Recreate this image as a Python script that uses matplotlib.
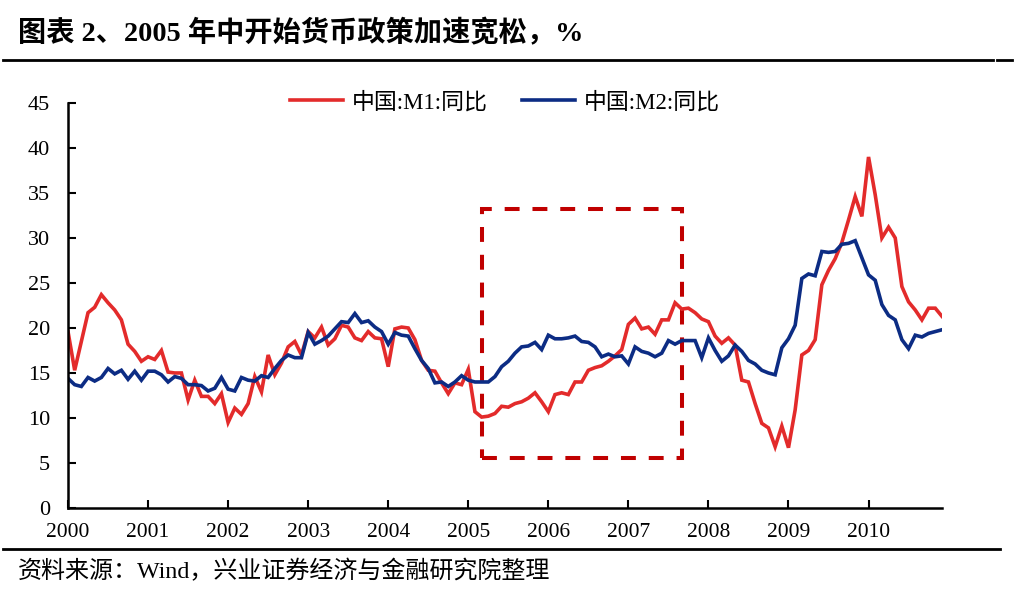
import matplotlib
matplotlib.use('Agg')
import matplotlib.pyplot as plt
from matplotlib.patches import Rectangle
from matplotlib.lines import Line2D
import numpy as np

plt.rcParams['font.family'] = ['Liberation Serif', 'Noto Sans CJK SC']

# monthly YoY growth, Jan 2000 - Dec 2010
m1 = [19.6, 15.3, 18.5, 21.7, 22.3, 23.7, 22.8, 22.0, 20.9, 18.2, 17.4, 16.3,
      16.8, 16.5, 17.5, 15.1, 15.0, 15.0, 12.0, 14.2, 12.4, 12.4, 11.6, 12.7,
      9.5, 11.1, 10.4, 11.6, 14.6, 12.9, 17.0, 14.8, 16.1, 17.9, 18.5, 17.0,
      19.6, 18.9, 20.1, 18.1, 18.8, 20.3, 20.1, 18.9, 18.6, 19.6, 18.9, 18.8,
      15.7, 19.9, 20.1, 20.0, 18.7, 16.4, 15.3, 15.2, 13.9, 12.7, 13.9, 13.7,
      15.4, 10.7, 10.1, 10.2, 10.5, 11.3, 11.2, 11.6, 11.8, 12.2, 12.8, 11.8,
      10.7, 12.6, 12.8, 12.6, 14.0, 14.0, 15.3, 15.6, 15.8, 16.3, 16.9, 17.6,
      20.4, 21.1, 19.9, 20.1, 19.3, 20.9, 20.9, 22.8, 22.1, 22.2, 21.7, 21.0,
      20.7, 19.1, 18.3, 18.9, 18.1, 14.2, 14.0, 11.6, 9.4, 8.9, 6.8, 9.1,
      6.7, 10.9, 17.0, 17.5, 18.7, 24.8, 26.4, 27.7, 29.5, 32.0, 34.6, 32.4,
      39.0, 34.8, 30.0, 31.2, 30.0, 24.6, 22.9, 22.0, 20.9, 22.2, 22.2, 21.3]
m2 = [14.4, 13.7, 13.5, 14.5, 14.1, 14.5, 15.5, 14.9, 15.3, 14.3, 15.2, 14.2,
      15.2, 15.2, 14.8, 14.0, 14.6, 14.4, 13.7, 13.7, 13.6, 13.0, 13.3, 14.5,
      13.2, 13.0, 14.5, 14.2, 14.1, 14.7, 14.5, 15.5, 16.4, 17.0, 16.7, 16.7,
      19.5, 18.2, 18.6, 19.1, 19.9, 20.7, 20.6, 21.6, 20.6, 20.8, 20.1, 19.6,
      18.2, 19.5, 19.2, 19.1, 17.7, 16.4, 15.5, 13.9, 14.0, 13.5, 14.0, 14.7,
      14.2, 14.0, 14.0, 14.0, 14.6, 15.7, 16.3, 17.2, 17.9, 18.0, 18.4, 17.6,
      19.2, 18.8, 18.8, 18.9, 19.1, 18.5, 18.4, 17.9, 16.8, 17.1, 16.8, 16.9,
      16.0, 17.9, 17.4, 17.2, 16.8, 17.2, 18.6, 18.2, 18.6, 18.6, 18.6, 16.7,
      18.9, 17.5, 16.3, 16.9, 18.1, 17.4, 16.4, 16.0, 15.3, 15.0, 14.8, 17.8,
      18.8, 20.3, 25.5, 26.0, 25.8, 28.5, 28.4, 28.5, 29.3, 29.4, 29.7, 27.8,
      25.9, 25.3, 22.6, 21.4, 20.9, 18.7, 17.7, 19.2, 19.0, 19.4, 19.6, 19.8]
years = ['2000', '2001', '2002', '2003', '2004', '2005',
         '2006', '2007', '2008', '2009', '2010']
labels = ['中国:M1:同比', '中国:M2:同比']

# highlighted period: Mar 2005 - Sep 2007
box_x = [62, 92]
box_y = [5.5, 33.2]

red = '#E32B2B'
blue = '#0C2C84'

fig = plt.figure(figsize=(10.15, 5.9), dpi=100)
ax = fig.add_axes([0.067, 0.139, 0.861, 0.6865])

x = np.arange(len(m1))
ax.plot(x, m1, color=red, lw=2.6, label=labels[0], solid_joinstyle='miter')
ax.plot(x, m2, color=blue, lw=2.6, label=labels[1], solid_joinstyle='miter')

ax.add_patch(Rectangle((box_x[0], box_y[0]), box_x[1] - box_x[0], box_y[1] - box_y[0],
                       fill=False, ec='#C00000', lw=2.9, ls=(0, (3.7, 3.2))))

ax.set_xlim(0, len(m1) - 1)
ax.set_ylim(0, 45)
ax.set_yticks(range(0, 46, 5))
ax.set_xticks(range(0, len(m1), 12))
ax.set_xticklabels(years)
ax.tick_params(axis='y', direction='in', length=6, width=1.5, labelsize=16, pad=13)
ax.tick_params(axis='x', direction='in', length=6, width=1.5, labelsize=15.5, pad=11)
for s in ['top', 'right']:
    ax.spines[s].set_visible(False)
for s in ['left', 'bottom']:
    ax.spines[s].set_linewidth(1.8)

ax.legend(loc='upper center', bbox_to_anchor=(0.5, 1.078), ncol=2, frameon=False,
          fontsize=16.5, handlelength=2.3, handletextpad=0.4, columnspacing=1.5)

fig.text(0.018, 0.944, '图表 2、2005 年中开始货币政策加速宽松，%', fontsize=20.3,
         fontweight='bold', va='center', ha='left')
fig.add_artist(Line2D([0.003, 0.978], [0.898, 0.898], color='black', lw=2))
fig.add_artist(Line2D([0.982, 0.997], [0.898, 0.898], color='black', lw=2))
fig.add_artist(Line2D([0.003, 0.985], [0.0695, 0.0695], color='black', lw=2))
fig.text(0.018, 0.032, '资料来源：Wind，兴业证券经济与金融研究院整理', fontsize=17.3,
         va='center', ha='left')

plt.savefig('out.png', dpi=100)
